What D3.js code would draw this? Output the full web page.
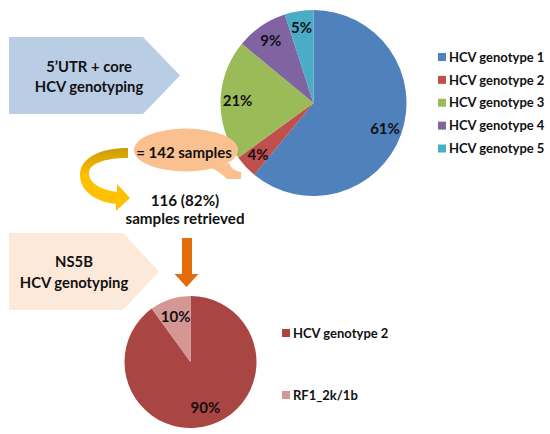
<!DOCTYPE html>
<html>
<head>
<meta charset="utf-8">
<script src="https://cdn.jsdelivr.net/npm/d3@7"></script>
<style>
  html, body { margin: 0; padding: 0; background: #fff; }
  svg { display: block; }
  text { font-family: Lato, "Open Sans", sans-serif; font-weight: 700; fill: #111; }
</style>
</head>
<body>
<svg id="chart" width="550" height="434"></svg>
<script>
// ---- data ----
const topCategories = ["HCV genotype 1", "HCV genotype 2", "HCV genotype 3", "HCV genotype 4", "HCV genotype 5"];
const topValues = [61, 4, 21, 9, 5];
const topColors = ["#4f81bd", "#c0504d", "#9bbb59", "#8064a2", "#4bacc6"];

const bottomCategories = ["HCV genotype 2", "RF1_2k/1b"];
const bottomValues = [90, 10];
const bottomColors = ["#a94543", "#d59794"];

const topBoxLines = ["5\u2019UTR + core", "HCV genotyping"];
const bottomBoxLines = ["NS5B", "HCV genotyping"];
const calloutText = "= 142 samples";
const retrievedLines = ["116 (82%)", "samples retrieved"];

const svg = d3.select("#chart");

// ---- defs ----
const defs = svg.append("defs");
const grad = defs.append("linearGradient").attr("id", "goldGrad")
  .attr("x1", 0).attr("y1", 0).attr("x2", 0).attr("y2", 1);
grad.append("stop").attr("offset", "0%").attr("stop-color", "#c89b08");
grad.append("stop").attr("offset", "22%").attr("stop-color", "#e6ae00");
grad.append("stop").attr("offset", "45%").attr("stop-color", "#ffc000");
grad.append("stop").attr("offset", "100%").attr("stop-color", "#ffc000");

// ---- pentagon boxes ----
function pentagon(x0, y0, y1, xs, xt) {
  const ym = (y0 + y1) / 2;
  return `M${x0},${y0}L${xs},${y0}L${xt},${ym}L${xs},${y1}L${x0},${y1}Z`;
}
svg.append("path").attr("d", pentagon(9, 37, 114, 143, 180)).attr("fill", "#b9cde5");
svg.append("path").attr("d", pentagon(9, 233, 310, 123, 159)).attr("fill", "#fde9d9");

svg.append("g").selectAll("text").data(topBoxLines).join("text")
  .attr("x", 89).attr("y", (d, i) => 72 + i * 20)
  .attr("text-anchor", "middle").attr("font-size", 14.8).text(d => d);
svg.append("g").selectAll("text").data(bottomBoxLines).join("text")
  .attr("x", 74).attr("y", (d, i) => 267 + i * 21)
  .attr("text-anchor", "middle").attr("font-size", 14.8).text(d => d);

// ---- top pie ----
const pie = d3.pie().sort(null).value(d => d);
const topG = svg.append("g").attr("transform", "translate(313.5,103)");
const topArc = d3.arc().innerRadius(0).outerRadius(93);
const topLabelArc = d3.arc().innerRadius(76).outerRadius(76);
const topData = pie(topValues);
topG.selectAll("path").data(topData).join("path")
  .attr("d", topArc).attr("fill", (d, i) => topColors[i]);

// ---- callout ellipse (drawn over pie edge) ----
svg.append("ellipse").attr("cx", 186).attr("cy", 150).attr("rx", 52).attr("ry", 21.5).attr("fill", "#fac090");
svg.append("path").attr("d", "M212,168Q224,175 227,179L241,179L241,172Q232,171 229,163Z").attr("fill", "#fac090");
svg.append("text").attr("x", 184).attr("y", 158).attr("text-anchor", "middle")
  .attr("font-size", 15).text(calloutText);

topG.selectAll("text").data(topData).join("text")
  .attr("transform", d => `translate(${topLabelArc.centroid(d)})`)
  .attr("dy", "0.36em").attr("text-anchor", "middle").attr("font-size", 15)
  .text(d => d.data + "%");

// ---- top legend ----
const topLegend = svg.append("g");
const topY = d3.scalePoint().domain(topCategories).range([57, 148.5]);
topLegend.selectAll("rect").data(topCategories).join("rect")
  .attr("x", 438).attr("y", d => topY(d) - 4).attr("width", 8).attr("height", 8)
  .attr("fill", (d, i) => topColors[i]);
topLegend.selectAll("text").data(topCategories).join("text")
  .attr("x", 449).attr("y", d => topY(d)).attr("dy", "0.36em")
  .attr("font-size", 13).text(d => d);

// ---- yellow curved arrow ----
svg.append("path")
  .attr("d", "M128,148C100,148 80,158 80,175C80,191 96,202 116,204L116,211L130,198L117,184L117,192C101,190 89,183 89,173C89,164 104,158 128,158Z")
  .attr("fill", "url(#goldGrad)");

svg.append("g").selectAll("text").data(retrievedLines).join("text")
  .attr("x", 185).attr("y", (d, i) => 206 + i * 18)
  .attr("text-anchor", "middle").attr("font-size", 15.2).text(d => d);

// ---- orange down arrow ----
svg.append("path")
  .attr("d", "M182,238L192,238L192,274L198.5,274L186.5,287L174.5,274L182,274Z")
  .attr("fill", "#e46c0a");

// ---- bottom pie ----
const botG = svg.append("g").attr("transform", "translate(190.5,362)");
const botArc = d3.arc().innerRadius(0).outerRadius(66);
const botLabelArc = d3.arc().innerRadius(48).outerRadius(48);
const botData = pie(bottomValues);
botG.selectAll("path").data(botData).join("path")
  .attr("d", botArc).attr("fill", (d, i) => bottomColors[i]);
botG.selectAll("text").data(botData).join("text")
  .attr("transform", d => `translate(${botLabelArc.centroid(d)})`)
  .attr("dy", "0.36em").attr("text-anchor", "middle").attr("font-size", 15)
  .text(d => d.data + "%");

// ---- bottom legend ----
const botLegend = svg.append("g");
const botY = d3.scalePoint().domain(bottomCategories).range([333, 395]);
botLegend.selectAll("rect").data(bottomCategories).join("rect")
  .attr("x", 282).attr("y", d => botY(d) - 4).attr("width", 8).attr("height", 8)
  .attr("fill", (d, i) => bottomColors[i]);
botLegend.selectAll("text").data(bottomCategories).join("text")
  .attr("x", 293).attr("y", d => botY(d)).attr("dy", "0.36em")
  .attr("font-size", 13).text(d => d);
</script>
</body>
</html>
